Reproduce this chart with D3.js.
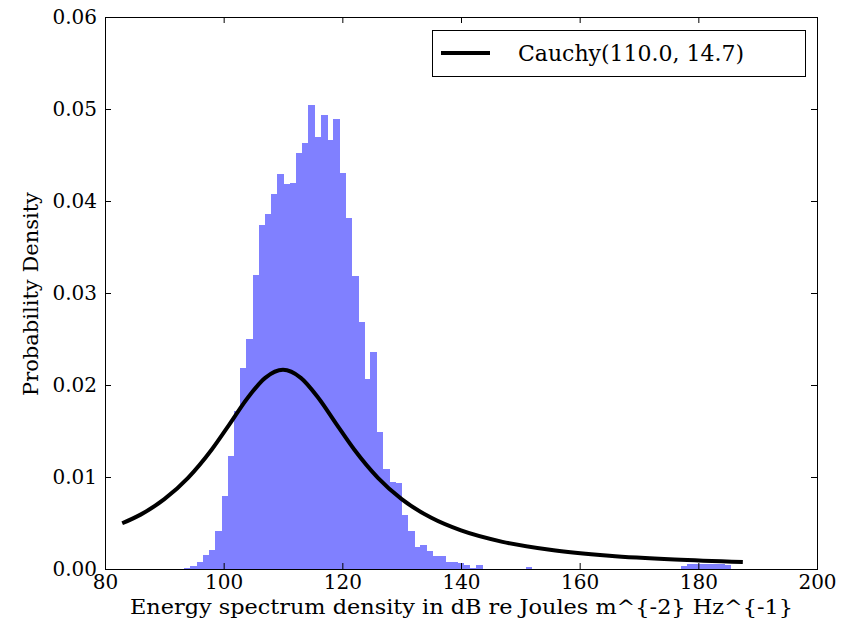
<!DOCTYPE html>
<html lang="en">
<head>
<meta charset="utf-8">
<title>Cauchy fit</title>
<script src="https://d3js.org/d3.v7.min.js"></script>
<style>
body{margin:0;background:#fff;}
text{font-family:"DejaVu Serif",serif;fill:#000;}
</style>
</head>
<body>
<div id="chart"></div>
<script>
// histogram bins (left edge in dB) and density
var binLeft = [93.36,94.41,95.45,96.50,97.54,98.59,99.64,100.68,101.73,102.77,103.82,104.87,105.91,106.96,108.00,109.05,110.10,111.14,112.19,113.23,114.28,115.33,116.37,117.42,118.46,119.51,120.56,121.60,122.65,123.69,124.74,125.79,126.83,127.88,128.92,129.97,131.02,132.06,133.11,134.15,135.20,136.25,137.29,138.34,139.38,140.43,141.48,142.52,150.89,177.04,178.09,179.13,180.18,181.22,182.27,183.32,184.36]
var binDensity = [0.0001,0.0003,0.0008,0.0015,0.0021,0.0041,0.0079,0.0123,0.0172,0.0219,0.0250,0.0320,0.0374,0.0386,0.0408,0.0429,0.0419,0.0420,0.0452,0.0463,0.0504,0.0470,0.0493,0.0466,0.0489,0.0430,0.0382,0.0318,0.0269,0.0207,0.0236,0.0149,0.0109,0.0095,0.0094,0.0059,0.0041,0.0024,0.0026,0.0020,0.0014,0.0014,0.0008,0.0008,0.0007,0.0004,0.0001,0.0004,0.0002,0.0003,0.0005,0.0005,0.0005,0.0005,0.0005,0.0005,0.0004]
var binWidth = 1.046

// fitted curve
var curveX = [82.9,86,90,94,98,101,104,107,110,113,116,119,122,126,130,135,140,147,155,165,176,187.5]
var curveY = [0.00497,0.00591,0.00759,0.00991,0.01299,0.01575,0.01856,0.02078,0.02165,0.02078,0.01856,0.01575,0.01299,0.00991,0.00759,0.00556,0.00419,0.00295,0.00209,0.00144,0.00102,0.00075]

var xTicks = [80,100,120,140,160,180,200]
var yTicks = [0,0.01,0.02,0.03,0.04,0.05,0.06]
var legendLabel = "Cauchy(110.0, 14.7)"

drawChart()

function drawChart(){
    var w = 851
    var h = 621
    var padL = 105, padR = 817, padT = 17, padB = 569

    var svg = d3.select("#chart").append("svg")
        .attr("width", w)
        .attr("height", h)

    var xScale = d3.scaleLinear().domain([80,200]).range([padL,padR])
    var yScale = d3.scaleLinear().domain([0,0.06]).range([padB,padT])

    // bars (slight overlap so no seams show)
    svg.selectAll("rect.bar")
        .data(binLeft)
        .enter()
        .append("rect")
        .attr("class","bar")
        .attr("x", function(d){ return xScale(d) })
        .attr("width", function(d){ return xScale(d+binWidth) - xScale(d) + 0.6 })
        .attr("y", function(d,i){ return yScale(binDensity[i]) })
        .attr("height", function(d,i){ return padB - yScale(binDensity[i]) })
        .style("fill","#8080ff")
        .style("shape-rendering","crispEdges")

    // cauchy line
    var line = d3.line()
        .x(function(d){ return xScale(d) })
        .y(function(d,i){ return yScale(curveY[i]) })
        .curve(d3.curveMonotoneX)

    svg.append("path")
        .datum(curveX)
        .attr("d", line)
        .style("fill","none")
        .style("stroke","#000")
        .style("stroke-width",4)

    // axes, ticks pointing inward like matplotlib classic
    var xAxis = d3.axisBottom(xScale).tickValues(xTicks).tickSize(-6).tickPadding(6).tickFormat(d3.format("d"))
    var xAxisTop = d3.axisTop(xScale).tickValues(xTicks).tickSize(-6).tickFormat("")
    var yAxis = d3.axisLeft(yScale).tickValues(yTicks).tickSize(-6).tickPadding(8).tickFormat(d3.format(".2f"))
    var yAxisRight = d3.axisRight(yScale).tickValues(yTicks).tickSize(-6).tickFormat("")

    svg.append("g").attr("class","axis")
        .attr("transform","translate(0,"+padB+")")
        .call(xAxis)
    svg.append("g").attr("class","axis")
        .attr("transform","translate(0,"+padT+")")
        .call(xAxisTop)
    svg.append("g").attr("class","axis")
        .attr("transform","translate("+padL+",0)")
        .call(yAxis)
    svg.append("g").attr("class","axis")
        .attr("transform","translate("+padR+",0)")
        .call(yAxisRight)

    svg.selectAll(".axis .domain").remove()
    svg.selectAll(".axis text").style("font-size","20px").style("font-family","DejaVu Serif")

    // frame
    svg.append("rect")
        .attr("x",padL).attr("y",padT)
        .attr("width",padR-padL).attr("height",padB-padT)
        .style("fill","none").style("stroke","#000").style("stroke-width",1)
        .style("shape-rendering","crispEdges")

    // labels
    svg.append("text")
        .attr("x",130)
        .attr("y",614)
        .attr("textLength",663)
        .attr("lengthAdjust","spacingAndGlyphs")
        .style("font-size","21px")
        .text("Energy spectrum density in dB re Joules m^{-2} Hz^{-1}")

    svg.append("text")
        .attr("transform","translate(38,"+((padT+padB)/2+1)+") rotate(-90)")
        .attr("text-anchor","middle")
        .style("font-size","21px")
        .text("Probability Density")

    // legend
    var lg = svg.append("g")
    lg.append("rect")
        .attr("x",432).attr("y",30).attr("width",373).attr("height",46)
        .style("fill","#fff").style("stroke","#000").style("stroke-width",1)
        .style("shape-rendering","crispEdges")
    lg.append("line")
        .attr("x1",441).attr("x2",490).attr("y1",53).attr("y2",53)
        .style("stroke","#000").style("stroke-width",4)
    lg.append("text")
        .attr("x",518).attr("y",61)
        .style("font-size","22px")
        .text(legendLabel)
}
</script>
</body>
</html>
